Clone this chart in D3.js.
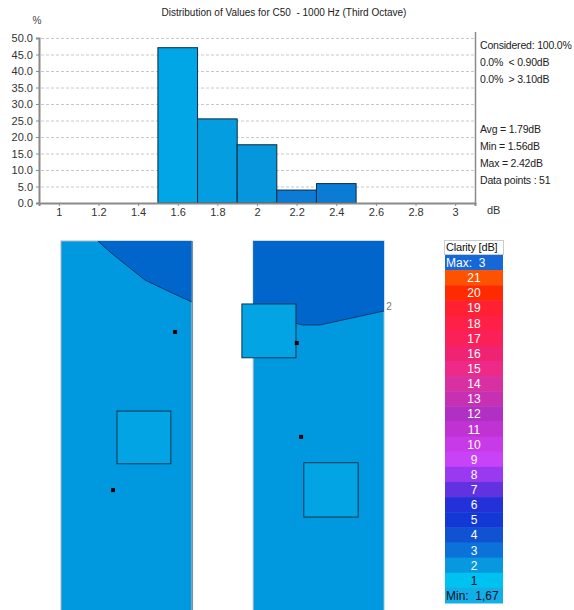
<!DOCTYPE html>
<html>
<head>
<meta charset="utf-8">
<script src="https://cdn.jsdelivr.net/npm/d3@7"></script>
<style>
  body { margin: 0; background: #ffffff; }
  svg { display: block; font-family: "Liberation Sans", Arial, sans-serif; }
  svg text { white-space: pre; }
</style>
</head>
<body>
<svg id="chart" width="574" height="610"></svg>
<script>
// Histogram data (C50, 1000 Hz)
const binStarts = [1.5, 1.7, 1.9, 2.1, 2.3];
const binWidth = 0.2;
const binPercents = [47.06, 25.49, 17.65, 3.92, 5.88];
const binColors = ["#00a6e6", "#049ddf", "#0696dc", "#0a7cd6", "#0a7cd6"];
const yTicks = [0, 5, 10, 15, 20, 25, 30, 35, 40, 45, 50];
const xTicks = [1, 1.2, 1.4, 1.6, 1.8, 2, 2.2, 2.4, 2.6, 2.8, 3];
const statsTop = ["Considered: 100.0%", "0.0%  < 0.90dB", "0.0%  > 3.10dB"];
const statsBottom = ["Avg = 1.79dB", "Min = 1.56dB", "Max = 2.42dB", "Data points : 51"];

// Legend data
const legendLevels = [21, 20, 19, 18, 17, 16, 15, 14, 13, 12, 11, 10, 9, 8, 7, 6, 5, 4, 3, 2, 1];
const legendColors = ["#ff5200", "#ff2a00", "#ff2032", "#ff2048", "#fa2058", "#f02272", "#ee2a88",
  "#d830a0", "#c830b4", "#b030c4", "#c032d2", "#c83ae8", "#c842f8", "#9a3af0", "#6232e0",
  "#2232d8", "#1438d6", "#1052d2", "#0a72d8", "#0898e0", "#00c2f0"];
const legendMax = "Max:  3";
const legendMin = "Min:  1,67";

// Map data (room units, metres)
const rooms = [[0, 24.3], [35.7, 60]];
const darkLeft = [[6.87, 0], [9.1, 2.04], [10.96, 3.53], [15.6, 7.25], [20.25, 9.47], [24.3, 11.33], [24.3, 0]];
const darkRight = [[35.7, 0], [35.7, 14.6], [43.47, 15.23], [44.77, 15.6], [48.1, 15.6], [60, 13.0], [60, 0]];
const squares = [[33.6, 11.7, 43.65, 21.7], [10.4, 31.6, 20.4, 41.4], [45.1, 41.2, 55.2, 51.3]];
const dots = [[21.2, 16.9], [43.8, 18.95], [9.66, 46.3], [44.6, 36.4]];

const svg = d3.select('#chart');

// ---------- histogram ----------
const x = d3.scaleLinear().domain([0.9, 3.1]).range([39, 475]);
const y = d3.scaleLinear().domain([0, 50]).range([203, 38]);

svg.append("text")
  .attr("x", 284).attr("y", 16)
  .attr("text-anchor", "middle")
  .style("font-size", "10px").style("fill", "#222")
  .text("Distribution of Values for C50  - 1000 Hz (Third Octave)");

svg.append("text")
  .attr("x", 37).attr("y", 24)
  .attr("text-anchor", "middle")
  .style("font-size", "10px").style("fill", "#444")
  .text("%");

// dashed grid
svg.append("g")
  .selectAll("line")
  .data(yTicks.filter(d => d > 0))
  .enter().append("line")
  .attr("x1", 41).attr("x2", 475)
  .attr("y1", d => y(d) + 0.5).attr("y2", d => y(d) + 0.5)
  .attr("stroke", "#c8c8c8")
  .attr("stroke-dasharray", "3,2");

// bars
svg.append("g")
  .selectAll("rect")
  .data(binStarts)
  .enter().append("rect")
  .attr("x", d => x(d))
  .attr("y", (d, i) => y(binPercents[i]))
  .attr("width", d => x(d + binWidth) - x(d))
  .attr("height", (d, i) => y(0) - y(binPercents[i]))
  .attr("fill", (d, i) => binColors[i])
  .attr("stroke", "#0a2a40")
  .attr("stroke-width", 1);

// axes
const yAxis = svg.append("g")
  .attr("transform", "translate(39,0)")
  .call(d3.axisLeft(y).tickValues(yTicks).tickFormat(d3.format(".1f")).tickSize(3).tickPadding(3));
const xAxis = svg.append("g")
  .attr("transform", "translate(0,203)")
  .call(d3.axisBottom(x).tickValues(xTicks).tickFormat(d => d).tickSize(3).tickPadding(2));

[yAxis, xAxis].forEach(a => {
  a.select(".domain").attr("stroke", "#8a8a8a").attr("stroke-width", 2);
  a.selectAll(".tick line").attr("stroke", "#8a8a8a");
  a.selectAll("text").style("font-size", "11px").style("fill", "#333")
    .style("font-family", "'Liberation Sans', Arial, sans-serif");
});

// right frame
svg.append("line")
  .attr("x1", 475.5).attr("x2", 475.5).attr("y1", 32).attr("y2", 204)
  .attr("stroke", "#8a8a8a").attr("stroke-width", 1.5);

svg.append("text")
  .attr("x", 487).attr("y", 214)
  .style("font-size", "11px").style("fill", "#333")
  .text("dB");

svg.append("g").selectAll("text")
  .data(statsTop).enter().append("text")
  .attr("x", 480).attr("y", (d, i) => 49 + i * 17)
  .style("font-size", "10.5px").style("letter-spacing", "-0.2px").style("fill", "#222")
  .text(d => d);

svg.append("g").selectAll("text")
  .data(statsBottom).enter().append("text")
  .attr("x", 480).attr("y", (d, i) => 133 + i * 17)
  .style("font-size", "10.5px").style("letter-spacing", "-0.2px").style("fill", "#222")
  .text(d => d);

// ---------- map ----------
const mx = d3.scaleLinear().domain([0, 60]).range([61, 384]);
const my = d3.scaleLinear().domain([0, 69.5]).range([241, 615]);
const mapLine = d3.line().x(d => mx(d[0])).y(d => my(d[1]));
const map = svg.append("g");

map.selectAll(".room")
  .data(rooms).enter().append("rect")
  .attr("class", "room")
  .attr("x", d => mx(d[0]))
  .attr("y", my(0))
  .attr("width", d => mx(d[1]) - mx(d[0]))
  .attr("height", my(69.5) - my(0))
  .attr("fill", "#0099e0")
  .attr("stroke", "#9fb8cc")
  .attr("stroke-width", 1);

map.selectAll(".dark")
  .data([darkLeft, darkRight]).enter().append("path")
  .attr("class", "dark")
  .attr("d", d => mapLine(d) + "Z")
  .attr("fill", "#0066cc");

// contour boundaries
map.selectAll(".contour")
  .data([darkLeft.slice(0, 6), darkRight.slice(1, 6)]).enter().append("path")
  .attr("class", "contour")
  .attr("d", mapLine)
  .attr("fill", "none")
  .attr("stroke", "#0a3a6a")
  .attr("stroke-width", 1);

map.append("line")
  .attr("x1", mx(24.3) + 0.5).attr("x2", mx(24.3) + 0.5)
  .attr("y1", my(0)).attr("y2", 610)
  .attr("stroke", "#7f8e9a").attr("stroke-width", 1.5);

map.append("text")
  .attr("x", mx(60.4)).attr("y", my(12.9))
  .style("font-size", "10px").style("fill", "#777")
  .text("2");

map.selectAll(".sq")
  .data(squares).enter().append("rect")
  .attr("class", "sq")
  .attr("x", d => mx(d[0]))
  .attr("y", d => my(d[1]))
  .attr("width", d => mx(d[2]) - mx(d[0]))
  .attr("height", d => my(d[3]) - my(d[1]))
  .attr("fill", "#03a4e4")
  .attr("stroke", "#0c3550")
  .attr("stroke-width", 1);

map.selectAll(".dot")
  .data(dots).enter().append("rect")
  .attr("class", "dot")
  .attr("x", d => mx(d[0]) - 2)
  .attr("y", d => my(d[1]) - 2)
  .attr("width", 4).attr("height", 4)
  .attr("fill", "#000");

// ---------- legend ----------
const rows = ["max"].concat(legendLevels, ["min"]);
const ly = d3.scaleBand().domain(rows).range([255, 603]);
const lx0 = 445, lw = 58;
const legend = svg.append("g");

legend.append("rect")
  .attr("x", lx0 - 0.5).attr("y", 240.5)
  .attr("width", lw + 1).attr("height", 14)
  .attr("fill", "#fff").attr("stroke", "#c4ccd4");

legend.append("text")
  .attr("x", lx0 + 1).attr("y", 251)
  .style("font-size", "11px").style("letter-spacing", "-0.2px").style("fill", "#111")
  .text("Clarity [dB]");

legend.selectAll(".cell")
  .data(rows).enter().append("rect")
  .attr("class", "cell")
  .attr("x", lx0)
  .attr("y", d => ly(d))
  .attr("width", lw)
  .attr("height", ly.bandwidth() + 0.5)
  .attr("fill", d => d === "max" ? "#1668d6" : d === "min" ? "#12aee8" : legendColors[legendLevels.indexOf(d)]);

legend.selectAll(".lab")
  .data(legendLevels).enter().append("text")
  .attr("class", "lab")
  .attr("x", lx0 + lw / 2)
  .attr("y", d => ly(d) + ly.bandwidth() / 2 + 4.5)
  .attr("text-anchor", "middle")
  .style("font-size", "12px")
  .style("fill", d => d === 1 ? "#112" : "#fff")
  .text(d => d);

legend.append("text")
  .attr("x", lx0 + 1).attr("y", ly("max") + ly.bandwidth() / 2 + 4.5)
  .style("font-size", "12px").style("fill", "#fff")
  .text(legendMax);

legend.append("text")
  .attr("x", lx0 + 1).attr("y", ly("min") + ly.bandwidth() / 2 + 4.5)
  .style("font-size", "12px").style("fill", "#112")
  .text(legendMin);
</script>
</body>
</html>
